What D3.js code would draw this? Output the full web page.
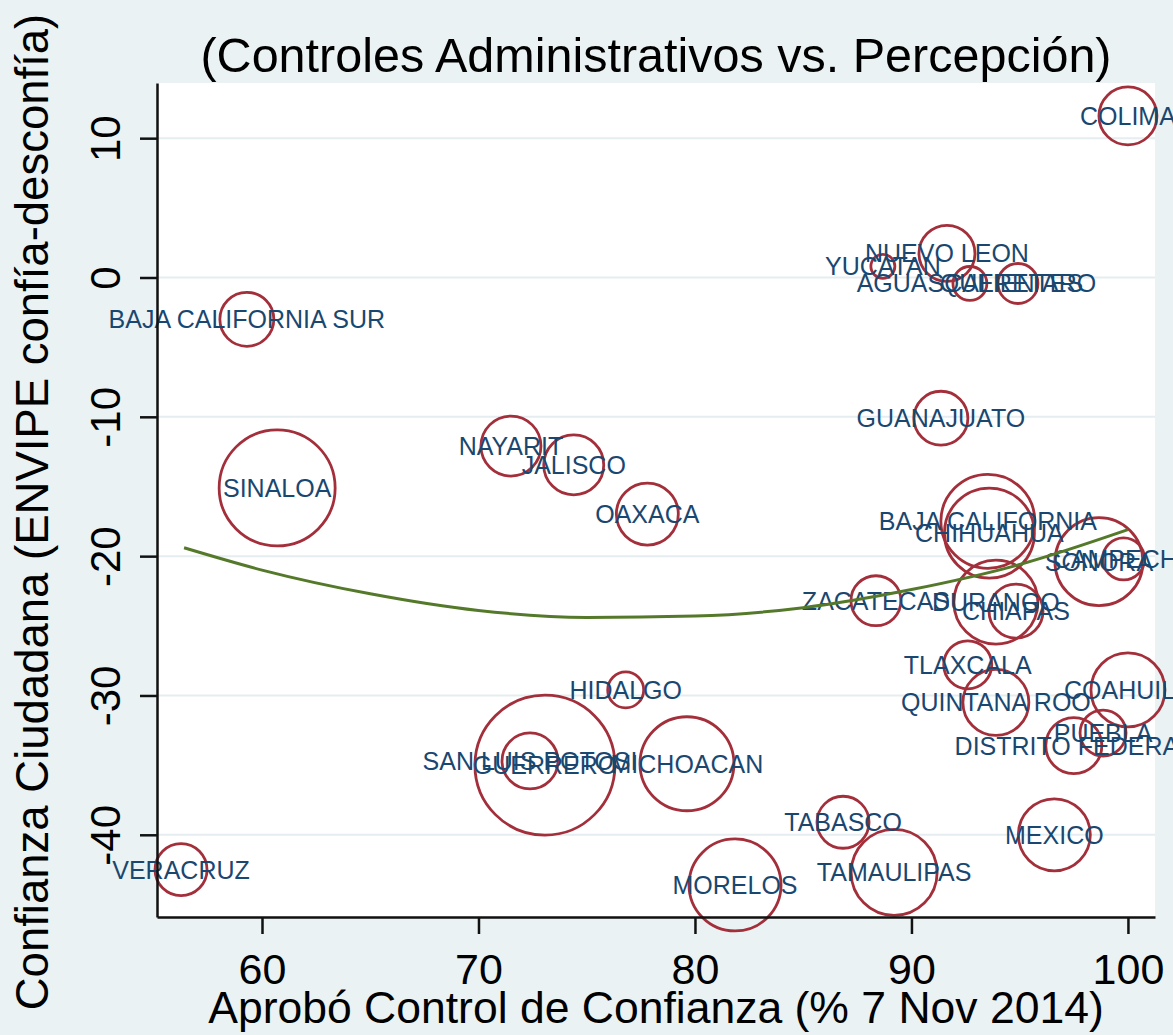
<!DOCTYPE html>
<html>
<head>
<meta charset="utf-8">
<script src="https://cdn.jsdelivr.net/npm/d3@7"></script>
<style>
  body { margin: 0; background: #eaf2f3; }
  text { font-family: "Liberation Sans", Arial, Helvetica, sans-serif; }
</style>
</head>
<body>
<svg id="chart" width="1173" height="1035"></svg>
<script>
// estados, % aprobado control de confianza, confianza ENVIPE, peso (tamano del circulo)
var estados = ["COLIMA", "NUEVO LEON", "YUCATAN", "AGUASCALIENTES", "QUERETARO",
  "BAJA CALIFORNIA SUR", "GUANAJUATO", "NAYARIT", "JALISCO", "SINALOA", "OAXACA",
  "BAJA CALIFORNIA", "CHIHUAHUA", "SONORA", "CAMPECHE", "ZACATECAS", "DURANGO",
  "CHIAPAS", "TLAXCALA", "QUINTANA ROO", "COAHUILA", "PUEBLA", "DISTRITO FEDERAL",
  "HIDALGO", "SAN LUIS POTOSI", "GUERRERO", "MICHOACAN", "TABASCO", "TAMAULIPAS",
  "MEXICO", "MORELOS", "VERACRUZ"];
var aprobo = [100, 91.64, 88.68, 92.7, 94.92,
  59.3, 91.36, 71.5, 74.4, 60.7, 77.8,
  93.53, 93.6, 98.66, 99.8, 88.36, 93.9,
  94.83, 92.6, 93.9, 100, 98.85, 97.5,
  76.8, 72.38, 73.07, 79.63, 86.84, 89.2,
  96.6, 81.85, 56.26];
var confianza = [11.6, 1.73, 0.8, -0.43, -0.43,
  -3.0, -10.1, -12.1, -13.45, -15.1, -16.98,
  -17.5, -18.35, -20.4, -20.2, -23.2, -23.3,
  -23.95, -27.8, -30.5, -29.6, -32.7, -33.6,
  -29.6, -34.7, -35.0, -34.9, -39.1, -42.7,
  -40.0, -43.6, -42.5];
var peso = [210, 196, 36, 72, 100,
  182, 182, 225, 225, 841, 240,
  552, 506, 484, 110, 156, 441,
  182, 144, 272, 342, 132, 196,
  81, 196, 1225, 552, 169, 462,
  324, 529, 169];

// ajuste cuadratico
var ajusteX = [56.4, 60, 65, 70, 75, 80, 85, 90, 95, 100];
var ajusteY = [-19.4, -21.0, -22.7, -23.9, -24.4, -24.3, -23.7, -22.4, -20.6, -18.1];

var xTicks = [60, 70, 80, 90, 100];
var yTicks = [10, 0, -10, -20, -30, -40];

var titulo = "(Controles Administrativos vs. Percepción)";
var tituloX = "Aprobó Control de Confianza (% 7 Nov 2014)";
var tituloY = "Confianza Ciudadana (ENVIPE confía-desconfía)";

var svg = d3.select("#chart");
var pL = 157, pR = 1155, pT = 83, pB = 917;

var x = d3.scaleLinear().domain([55.15, 101.25]).range([pL, pR]);
var y = d3.scaleLinear().domain([-45.9, 13.96]).range([pB, pT]);
var r = d3.scaleSqrt().domain([0, 1225]).range([0, 70]);

svg.append("rect").attr("width", 1173).attr("height", 1035).attr("fill", "#eaf2f3");
svg.append("rect")
  .attr("x", pL).attr("y", pT)
  .attr("width", pR - pL).attr("height", pB - pT)
  .attr("fill", "white");

// lineas de rejilla
svg.append("g").selectAll("line")
  .data(yTicks)
  .enter().append("line")
  .attr("x1", pL).attr("x2", pR)
  .attr("y1", function(d) { return y(d); })
  .attr("y2", function(d) { return y(d); })
  .attr("stroke", "#e6edf0")
  .attr("stroke-width", 2);

var datos = estados.map(function(e, i) {
  return {nombre: e, x: aprobo[i], y: confianza[i], w: peso[i]};
});

svg.append("g").selectAll("circle")
  .data(datos)
  .enter().append("circle")
  .attr("cx", function(d) { return x(d.x); })
  .attr("cy", function(d) { return y(d.y); })
  .attr("r", function(d) { return r(d.w); })
  .attr("fill", "none")
  .attr("stroke", "#a32f3b")
  .attr("stroke-width", 2.8);

svg.append("g").selectAll("text")
  .data(datos)
  .enter().append("text")
  .attr("x", function(d) { return x(d.x); })
  .attr("y", function(d) { return y(d.y); })
  .attr("dy", "0.36em")
  .attr("text-anchor", "middle")
  .attr("font-size", 25)
  .attr("fill", "#1a476f")
  .text(function(d) { return d.nombre; });

var ajuste = ajusteX.map(function(v, i) { return [v, ajusteY[i]]; });
svg.append("path")
  .datum(ajuste)
  .attr("fill", "none")
  .attr("stroke", "#55792a")
  .attr("stroke-width", 3)
  .attr("d", d3.line()
    .x(function(d) { return x(d[0]); })
    .y(function(d) { return y(d[1]); })
    .curve(d3.curveMonotoneX));

// ejes
var fmt = function(d) { return String(d); };
var ejeX = svg.append("g")
  .attr("transform", "translate(0," + pB + ")")
  .call(d3.axisBottom(x).tickValues(xTicks).tickFormat(fmt).tickSize(17).tickSizeOuter(0));
ejeX.selectAll("text")
  .attr("y", 67).attr("dy", 0)
  .attr("font-size", 43).attr("fill", "#000");

var ejeY = svg.append("g")
  .attr("transform", "translate(" + pL + ",0)")
  .call(d3.axisLeft(y).tickValues(yTicks).tickFormat(fmt).tickSize(17).tickSizeOuter(0));
ejeY.selectAll("text")
  .attr("x", 0).attr("y", -37).attr("dy", 0)
  .attr("text-anchor", "middle")
  .attr("transform", "rotate(-90)")
  .attr("font-size", 42).attr("fill", "#000");

svg.selectAll(".domain, .tick line")
  .attr("stroke", "#111").attr("stroke-width", 2.5);

svg.append("text")
  .attr("x", 656).attr("y", 72)
  .attr("text-anchor", "middle")
  .attr("font-size", 48.5)
  .text(titulo);

svg.append("text")
  .attr("x", 656).attr("y", 1023)
  .attr("text-anchor", "middle")
  .attr("font-size", 44.5)
  .text(tituloX);

svg.append("text")
  .attr("transform", "translate(48,512) rotate(-90)")
  .attr("text-anchor", "middle")
  .attr("font-size", 45.5)
  .text(tituloY);
</script>
</body>
</html>
